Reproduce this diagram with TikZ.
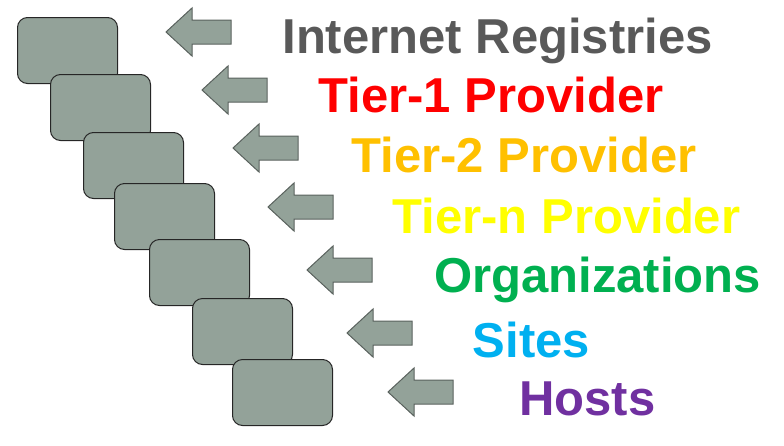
\documentclass[tikz,border=0pt]{standalone}
\usepackage{fontspec}
\setmainfont{Liberation Sans}
\begin{document}
\begin{tikzpicture}[x=1pt,y=-1pt,
  box/.style={draw=black!85,line width=1pt,fill=boxfill,rounded corners=10pt,
    minimum width=100pt,minimum height=66pt,anchor=north west,inner sep=0pt},
  arr/.style={draw=arrline,line width=1pt,fill=boxfill},
  lbl/.style={anchor=base,inner sep=0pt,font=\fontsize{49}{49}\selectfont\bfseries}]
\definecolor{boxfill}{HTML}{93A299}
\definecolor{arrline}{HTML}{5A625E}
\definecolor{cgray}{HTML}{595959}
\definecolor{cred}{HTML}{FF0000}
\definecolor{corange}{HTML}{FFC000}
\definecolor{cyellow}{HTML}{FFFF00}
\definecolor{cgreen}{HTML}{00B050}
\definecolor{ccyan}{HTML}{00B0F0}
\definecolor{cpurple}{HTML}{7030A0}
\useasboundingbox (0,0) rectangle (784,445);
% boxes
\node[box] (b1) at (17,17) {};
\node[box] (b2) at (50,74) {};
\node[box] (b3) at (83,132) {};
\node[box] (b4) at (114,183) {};
\node[box] (b5) at (149,239) {};
\node[box] (b6) at (192,298) {};
\node[box] (b7) at (232,359) {};
% arrows
\foreach \tx/\ty in {166/32,202/90,233/148,268/207,307/270,347/333,388/392}{
  \draw[arr] (\tx,\ty) -- ++(26,-24) -- ++(0,12) -- ++(39,0) -- ++(0,24)
    -- ++(-39,0) -- ++(0,12) -- cycle;
}
% labels
\node[lbl,text=cgray] (l1) at (497.5,53) {Internet Registries};
\node[lbl,text=cred] (l2) at (491,112) {Tier-1 Provider};
\node[lbl,text=corange] (l3) at (524,172) {Tier-2 Provider};
\node[lbl,text=cyellow] (l4) at (566.5,233) {Tier-n Provider};
\node[lbl,text=cgreen] (l5) at (597.5,292) {Organizations};
\node[lbl,text=ccyan] (l6) at (531.5,357) {Sites};
\node[lbl,text=cpurple] (l7) at (587.5,415) {Hosts};
\end{tikzpicture}
\end{document}
